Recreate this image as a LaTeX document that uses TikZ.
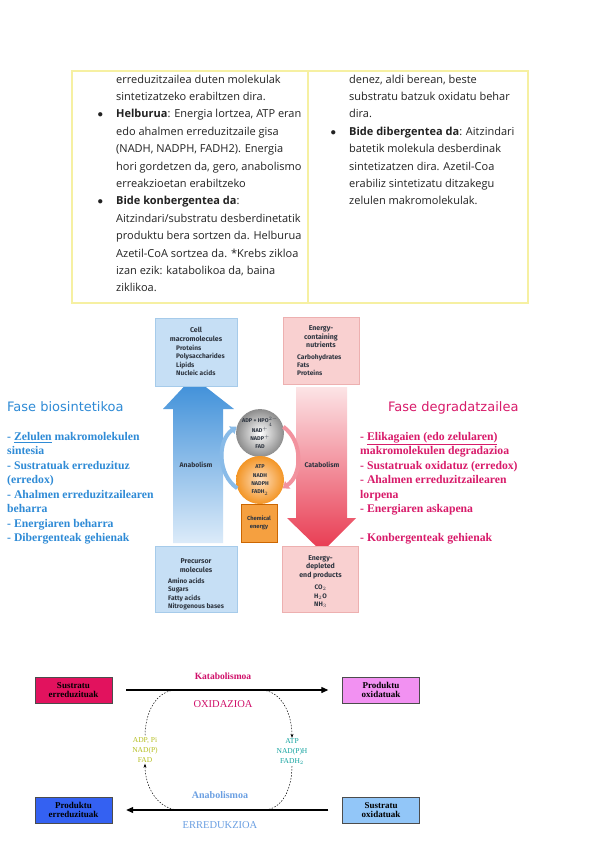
\documentclass[tikz,border=0pt]{standalone}
\usepackage{fontspec}
\setmainfont{Liberation Serif}
\newfontfamily\tabfont{Open Sans}
\newfontfamily\labfont{Fira Sans}
\newfontfamily\fasefont{DejaVu Sans}
\usetikzlibrary{arrows.meta,shadings}
\definecolor{tabyellow}{HTML}{F6F0A2}
\definecolor{tabink}{HTML}{222222}
\definecolor{boxblue}{HTML}{C6DFF5}
\definecolor{boxblueline}{HTML}{A6CBEA}
\definecolor{boxpink}{HTML}{F9D0D0}
\definecolor{boxpinkline}{HTML}{EDB0B0}
\definecolor{anablue}{HTML}{3A8DD8}
\definecolor{anafade}{HTML}{DCEBF9}
\definecolor{catred}{HTML}{E8384F}
\definecolor{catfade}{HTML}{FCE4E6}
\definecolor{ballgray}{HTML}{8C8C8C}
\definecolor{ballorange}{HTML}{F39525}
\definecolor{energyorange}{HTML}{F5A040}
\definecolor{labink}{HTML}{2E3540}
\definecolor{biotext}{HTML}{2F8BD6}
\definecolor{degtext}{HTML}{D81B6A}
\definecolor{katmag}{HTML}{D0106A}
\definecolor{anatext}{HTML}{6A9FE2}
\definecolor{adpgreen}{HTML}{B5BE1E}
\definecolor{atpteal}{HTML}{12A3A0}
\definecolor{sredfill}{HTML}{E2125E}
\definecolor{poxfill}{HTML}{F291F2}
\definecolor{predfill}{HTML}{3461F2}
\definecolor{soxfill}{HTML}{92C6F8}
\newcommand{\bul}{\llap{$\bullet$\hspace{13pt}}}

\begin{document}
\begin{tikzpicture}[
  x=1pt,y=-1pt,
  tabline/.style={draw=tabyellow,line width=1.5pt},
  tabtext/.style={anchor=north west,inner sep=0pt,align=left,text=tabink,font=\tabfont\fontsize{11}{17.4}\selectfont},
  fasetitle/.style={anchor=west,inner sep=0pt,font=\fasefont\fontsize{13}{15}\selectfont},
  phaselist/.style={anchor=north west,inner sep=0pt,align=left,font=\bfseries\fontsize{11.7}{14.5}\selectfont},
  bluebox/.style={draw=boxblueline,fill=boxblue,minimum width=82pt,minimum height=68pt},
  pinkbox/.style={draw=boxpinkline,fill=boxpink,minimum width=76pt,minimum height=67pt},
  boxtitle/.style={inner sep=0pt,align=center,text=labink,font=\labfont\bfseries\fontsize{7}{8.5}\selectfont},
  boxitems/.style={anchor=north west,inner sep=0pt,align=left,text=labink,font=\labfont\bfseries\fontsize{6.6}{8.3}\selectfont},
  ball/.style={circle,shading=radial,inner sep=0pt,align=center,text=labink,font=\labfont\bfseries\fontsize{5.5}{8.3}\selectfont},
  cyclearr/.style={line width=4pt,-{Triangle[length=6pt,width=9pt]}},
  stagebox/.style={draw=black!70,minimum width=77pt,minimum height=26pt,inner sep=0pt,align=center,font=\bfseries\fontsize{9}{9.5}\selectfont},
  bigarr/.style={line width=1.2pt,-{Triangle[length=7pt,width=6pt]},shorten <=14pt,shorten >=14pt},
  dashcurve/.style={dashed,dash pattern=on 1.5pt off 1.5pt,line width=0.5pt},
  tip/.style={-{Stealth[length=4pt,width=3pt]}},
  cofactor/.style={inner sep=1pt,align=center,font=\fontsize{7.5}{10}\selectfont}
]
\useasboundingbox[fill=white] (0,0) rectangle (599,848);

% table
\draw[tabline] (72,71) rectangle (528,303);
\draw[tabline] (308,71) -- (308,303);
\node[tabtext] (leftcol) at (116,74.5) {erreduzitzailea duten molekulak\\
sintetizatzeko erabiltzen dira.\\
\bul\textbf{Helburua}: Energia lortzea, ATP eran\\
edo ahalmen erreduzitzaile gisa\\
(NADH, NADPH, FADH2). Energia\\
hori gordetzen da, gero, anabolismo\\
erreakzioetan erabiltzeko\\
\bul\textbf{Bide konbergentea da}:\\
Aitzindari/substratu desberdinetatik\\
produktu bera sortzen da. Helburua\\
Azetil-CoA sortzea da. *Krebs zikloa\\
izan ezik: katabolikoa da, baina\\
ziklikoa.};
\node[tabtext] (rightcol) at (349,74.5) {denez, aldi berean, beste\\
substratu batzuk oxidatu behar\\
dira.\\
\bul\textbf{Bide dibergentea da}: Aitzindari\\
batetik molekula desberdinak\\
sintetizatzen dira. Azetil-Coa\\
erabiliz sintetizatu ditzakegu\\
zelulen makromolekulak.};

% metabolism scheme
\shade[top color=anablue,bottom color=anafade] (193,377) -- (234,409) -- (223,409) -- (223,543)
  -- (173,543) -- (173,409) -- (163,409) -- cycle;
\shade[top color=catfade,bottom color=catred] (296,387) -- (347,387) -- (347,518) -- (356,518)
  -- (322,552) -- (287,518) -- (296,518) -- cycle;
\node[bluebox] (cellmac) at (196,352) {};
\node[boxtitle] (celltitle) at (196,334.5) {Cell\\macromolecules};
\node[boxitems] (cellitems) at (176,345) {Proteins\\Polysaccharides\\Lipids\\Nucleic acids};
\node[pinkbox] (nutrients) at (321,351) {};
\node[boxtitle] (nuttitle) at (321,337) {Energy-\\containing\\nutrients};
\node[boxitems] (nutitems) at (297,354) {Carbohydrates\\Fats\\Proteins};
\node[bluebox,minimum height=66pt] (precursor) at (196,579) {};
\node[boxtitle] (prectitle) at (196,565.5) {Precursor\\molecules};
\node[boxitems] (precitems) at (168,578) {Amino acids\\Sugars\\Fatty acids\\Nitrogenous bases};
\node[pinkbox,minimum height=66pt] (endprod) at (320.5,579) {};
\node[boxtitle] (endtitle) at (320.5,567) {Energy-\\depleted\\end products};
\node[boxtitle,font=\labfont\bfseries\fontsize{6.5}{8.5}\selectfont] (enditems) at (320.5,596.5) {CO$_2$\\H$_2$O\\NH$_3$};
\node[ball,inner color=white,outer color=ballgray,minimum size=46pt] (adpball) at (260,433)
  {ADP + HPO$_4^{2-}$\\NAD$^+$\\NADP$^+$\\FAD};
\node[ball,inner color=orange!25!white,outer color=ballorange,minimum size=48pt] (atpball) at (260,480)
  {ATP\\NADH\\NADPH\\FADH$_2$};
\node[draw=orange!80!black,fill=energyorange,minimum width=36pt,minimum height=38pt,inner sep=0pt,
  align=center,text=labink,font=\labfont\bfseries\fontsize{5.8}{8}\selectfont] (chemen) at (259,523) {Chemical\\energy};
\node[text=labink,font=\labfont\bfseries\fontsize{6.8}{8}\selectfont] (anatag) at (196,465) {Anabolism};
\node[text=labink,font=\labfont\bfseries\fontsize{6.8}{8}\selectfont] (cattag) at (322,465) {Catabolism};
\draw[cyclearr,draw=anablue!60] (atpball.200) to[bend left=55] (adpball.165);
\draw[cyclearr,draw=catred!55] (adpball.15) to[bend left=55] (atpball.-20);

% phase notes
\node[fasetitle,text=biotext] (biotitle) at (7,407) {Fase biosintetikoa};
\node[phaselist,text=biotext] (biolist) at (7,432) {- \underline{Zelulen} makromolekulen\\
sintesia\\
- Sustratuak erreduzituz\\
(erredox)\\
- Ahalmen erreduzitzailearen\\
beharra\\
- Energiaren beharra\\
- Dibergenteak gehienak};
\node[fasetitle,text=degtext] (degtitle) at (388,408) {Fase degradatzailea};
\node[phaselist,text=degtext] (deglist) at (360,432) {- \underline{Elikagaien (edo zelularen)}\\
makromolekulen degradazioa\\
- Sustatruak oxidatuz (erredox)\\
- Ahalmen erreduzitzailearen\\
lorpena\\
- Energiaren askapena\\[14.5pt]
- Konbergenteak gehienak};

% redox cycle
\node[stagebox,fill=sredfill] (sustred) at (73.5,690) {Sustratu\\erreduzituak};
\node[stagebox,fill=poxfill] (prodox) at (381,690) {Produktu\\oxidatuak};
\node[stagebox,fill=predfill] (prodred) at (73.5,810) {Produktu\\erreduzituak};
\node[stagebox,fill=soxfill] (sustox) at (381,810) {Sustratu\\oxidatuak};
\draw[bigarr] (sustred) -- (prodox);
\draw[bigarr] (sustox) -- (prodred);
\node[text=katmag,font=\bfseries\fontsize{9.5}{11}\selectfont] (katlbl) at (223,676) {Katabolismoa};
\node[text=katmag,font=\fontsize{10.5}{12}\selectfont] (oxlbl) at (223,704) {OXIDAZIOA};
\node[text=anatext,font=\bfseries\fontsize{10}{12}\selectfont] (analbl) at (220,795) {Anabolismoa};
\node[text=anatext,font=\fontsize{10.5}{12}\selectfont] (erredlbl) at (220,825) {ERREDUKZIOA};
\node[cofactor,text=adpgreen] (adplbl) at (145,750) {ADP, Pi\\NAD(P)\\FAD};
\node[cofactor,text=atpteal] (atplbl) at (292,752) {ATP\\NAD(P)H\\FADH$_2$};
\coordinate (ktopL) at (177,690);
\coordinate (ktopR) at (260,690);
\coordinate (abotL) at (180,810);
\coordinate (abotR) at (263,810);
\draw[dashcurve] (ktopL) to[out=180,in=90] (adplbl.north);
\draw[dashcurve,tip] (abotL) to[out=180,in=270] (adplbl.south);
\draw[dashcurve,tip] (ktopR) to[out=0,in=90] (atplbl.north);
\draw[dashcurve] (atplbl.south) to[out=270,in=0] (abotR);
\end{tikzpicture}
\end{document}
